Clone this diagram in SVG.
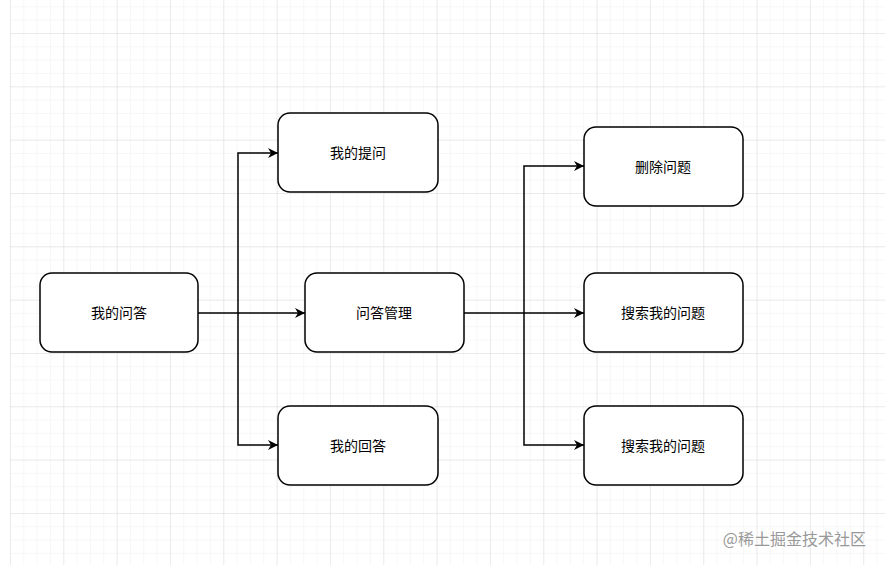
<svg xmlns="http://www.w3.org/2000/svg" width="885" height="565" viewBox="0 0 885 565">
<defs>
<pattern id="minor" x="10" y="33" width="13.33" height="13.33" patternUnits="userSpaceOnUse"><path d="M0 0H13.33M0 0V13.33" fill="none" stroke="#efefef" stroke-width="1"/></pattern>
<pattern id="major" x="10" y="33" width="53.33" height="53.33" patternUnits="userSpaceOnUse"><path d="M0 0H53.33M0 0V53.33" fill="none" stroke="#dddddd" stroke-width="1"/></pattern>
<marker id="ah" viewBox="0 0 10 10" refX="10" refY="5" markerWidth="10" markerHeight="10" markerUnits="userSpaceOnUse" orient="auto"><path d="M0 0L10 5L0 10L3 5Z" fill="#000"/></marker>
</defs>
<style>
.n{fill:#fff;stroke:#000;stroke-width:1.5}
.t{font-family:"Noto Sans CJK SC",sans-serif;font-size:14px;text-anchor:middle;dominant-baseline:central;fill:#000}
.c{fill:none;stroke:#000;stroke-width:1.5}
</style>
<rect width="885" height="565" fill="#fff"/>
<rect x="10" y="0" width="875" height="565" fill="url(#minor)"/>
<rect x="10" y="0" width="875" height="565" fill="url(#major)"/>
<g id="connectors">
<path class="c" d="M198 313H305" marker-end="url(#ah)"/>
<path class="c" d="M238 313V153H278" marker-end="url(#ah)"/>
<path class="c" d="M238 313V445H278" marker-end="url(#ah)"/>
<path class="c" d="M464 313H584" marker-end="url(#ah)"/>
<path class="c" d="M524 313V166H584" marker-end="url(#ah)"/>
<path class="c" d="M524 313V445H584" marker-end="url(#ah)"/>
</g>
<g id="n1"><rect class="n" x="40" y="273" width="158" height="79" rx="12"/><text class="t" x="119" y="312">我的问答</text></g>
<g id="n2"><rect class="n" x="278" y="113" width="160" height="79" rx="12"/><text class="t" x="358" y="152">我的提问</text></g>
<g id="n3"><rect class="n" x="305" y="273" width="159" height="79" rx="12"/><text class="t" x="384" y="312">问答管理</text></g>
<g id="n4"><rect class="n" x="278" y="406" width="160" height="79" rx="12"/><text class="t" x="358" y="445">我的回答</text></g>
<g id="n5"><rect class="n" x="584" y="127" width="159" height="79" rx="12"/><text class="t" x="663" y="166">删除问题</text></g>
<g id="n6"><rect class="n" x="584" y="273" width="159" height="79" rx="12"/><text class="t" x="663" y="312">搜索我的问题</text></g>
<g id="n7"><rect class="n" x="584" y="406" width="159" height="79" rx="12"/><text class="t" x="663" y="445">搜索我的问题</text></g>
<text x="866" y="538" font-family="Noto Sans CJK SC,sans-serif" font-size="16" fill="#999" text-anchor="end" dominant-baseline="central">@稀土掘金技术社区</text>
</svg>
